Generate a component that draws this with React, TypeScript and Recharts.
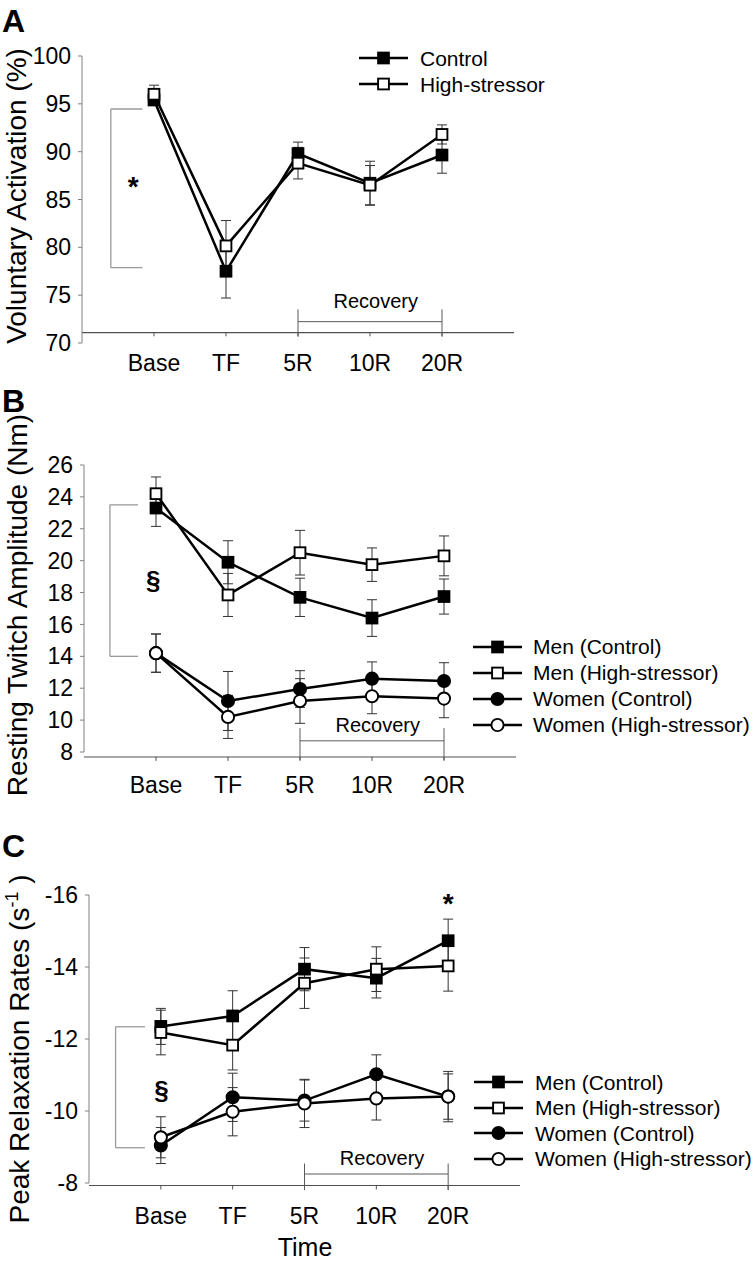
import React from 'react';
import { LineChart, Line, XAxis, YAxis, ErrorBar, ReferenceLine, ReferenceDot, Legend } from 'recharts';

const FONT = '"Liberation Sans", Arial, Helvetica, sans-serif';

// ---------- shared categories ----------
const timePoints = ['Base', 'TF', '5R', '10R', '20R'];

// ---------- Panel A: Voluntary activation (%) ----------
const vaControl = [95.4, 77.5, 89.8, 86.7, 89.65];
const vaControlErr = [0.5, 2.8, 1.2, 2.3, 1.9];
const vaHigh = [96.0, 80.15, 88.8, 86.5, 91.8];
const vaHighErr = [0.95, 2.65, 1.65, 2.05, 1.0];
const vaTicks = [70, 75, 80, 85, 90, 95, 100];

// ---------- Panel B: Resting twitch amplitude (Nm) ----------
const rtMenControl = [23.3, 19.9, 17.7, 16.4, 17.75];
const rtMenControlErr = [1.15, 1.35, 1.2, 1.15, 1.1];
const rtMenHigh = [24.2, 17.85, 20.5, 19.75, 20.3];
const rtMenHighErr = [1.05, 1.35, 1.4, 1.05, 1.25];
const rtWomenControl = [14.2, 11.2, 11.95, 12.6, 12.45];
const rtWomenControlErr = [1.2, 1.85, 1.15, 1.05, 1.15];
const rtWomenHigh = [14.2, 10.2, 11.2, 11.5, 11.35];
const rtWomenHighErr = [1.2, 1.35, 1.4, 1.1, 1.2];
const rtTicks = [8, 10, 12, 14, 16, 18, 20, 22, 24, 26];

// ---------- Panel C: Peak relaxation rates (s^-1) ----------
const prMenControl = [-12.35, -12.64, -13.94, -13.69, -14.73];
const prMenControlErr = [0.5, 0.7, 0.6, 0.55, 0.6];
const prMenHigh = [-12.18, -11.83, -13.55, -13.94, -14.03];
const prMenHighErr = [0.62, 0.69, 0.7, 0.62, 0.7];
const prWomenControl = [-9.04, -10.38, -10.29, -11.02, -10.4];
const prWomenControlErr = [0.5, 0.67, 0.57, 0.54, 0.63];
const prWomenHigh = [-9.27, -9.98, -10.21, -10.35, -10.4];
const prWomenHighErr = [0.57, 0.67, 0.67, 0.6, 0.7];
const prTicks = [-16, -14, -12, -10, -8];

const legendA = ['Control', 'High-stressor'];
const legendBC = ['Men (Control)', 'Men (High-stressor)', 'Women (Control)', 'Women (High-stressor)'];

// ---------- data tables ----------
const tickPositions = timePoints.map((_, i) => i + 1);
const fmtTime = (v: number) => timePoints[v - 1] ?? '';

const dataA = timePoints.map((t, i) => ({
  pos: i + 1, time: t,
  control: vaControl[i], controlErr: vaControlErr[i],
  high: vaHigh[i], highErr: vaHighErr[i],
}));
const dataB = timePoints.map((t, i) => ({
  pos: i + 1, time: t,
  mc: rtMenControl[i], mcErr: rtMenControlErr[i],
  mh: rtMenHigh[i], mhErr: rtMenHighErr[i],
  wc: rtWomenControl[i], wcErr: rtWomenControlErr[i],
  wh: rtWomenHigh[i], whErr: rtWomenHighErr[i],
}));
const dataC = timePoints.map((t, i) => ({
  pos: i + 1, time: t,
  mc: prMenControl[i], mcErr: prMenControlErr[i],
  mh: prMenHigh[i], mhErr: prMenHighErr[i],
  wc: prWomenControl[i], wcErr: prWomenControlErr[i],
  wh: prWomenHigh[i], whErr: prWomenHighErr[i],
}));

// ---------- styles ----------
const Y_AXIS_GRAY = '#808080';
const X_AXIS_GRAY = '#505050';
const BRACKET_GRAY = '#9a9a9a';
const RECOVERY_GRAY = '#5a5a5a';
const ERR_COLOR = '#333333';
const LINE_W = 2.5;

type Marker = 'filledSquare' | 'openSquare' | 'filledCircle' | 'openCircle';

function renderMarker(kind: Marker, cx: number, cy: number, key?: string) {
  const filled = kind === 'filledSquare' || kind === 'filledCircle';
  const fill = filled ? '#000' : '#fff';
  if (kind === 'filledSquare' || kind === 'openSquare') {
    return <rect key={key} x={cx - 5.4} y={cy - 5.4} width={10.8} height={10.8} fill={fill} stroke="#000" strokeWidth={1.9} />;
  }
  return <circle key={key} cx={cx} cy={cy} r={6.1} fill={fill} stroke="#000" strokeWidth={1.9} />;
}

const dotFor = (kind: Marker) => (p: any) => {
  if (p.cx == null || p.cy == null) return <g key={`${kind}-e-${p.index}`} />;
  return renderMarker(kind, p.cx, p.cy, `${kind}-${p.index}`);
};

const markersA: Marker[] = ['filledSquare', 'openSquare'];
const markersBC: Marker[] = ['filledSquare', 'openSquare', 'filledCircle', 'openCircle'];

const LegendBox = ({ names, markers, rowH, gap }: { names: string[]; markers: Marker[]; rowH: number; gap: number }) => (
  <div style={{ fontFamily: FONT, fontSize: 21, color: '#000' }}>
    {names.map((n, i) => (
      <div key={n} style={{ display: 'flex', alignItems: 'center', height: rowH, whiteSpace: 'nowrap' }}>
        <svg width={49} height={16} style={{ display: 'block', flex: 'none', marginRight: gap }}>
          <line x1={0} y1={8} x2={49} y2={8} stroke="#000" strokeWidth={LINE_W} />
          {renderMarker(markers[i], 24.5, 8)}
        </svg>
        <span style={{ lineHeight: 1 }}>{n}</span>
      </div>
    ))}
  </div>
);

const textShape = (text: string, fontSize: number, bold: boolean) => (p: any) => (
  <text x={p.cx} y={p.cy} textAnchor="middle" fontSize={fontSize} fontWeight={bold ? 'bold' : 'normal'} fontFamily={FONT} fill="#000">
    {text}
  </text>
);

const tickStyle = { fill: '#000', fontSize: 23, fontFamily: FONT };

const titleA = () => (
  <g>
    <text x={2} y={32} fontSize={32} fontWeight="bold" fontFamily={FONT} fill="#000">A</text>
    <text transform="translate(26,196) rotate(-90)" textAnchor="middle" fontSize={28} fontFamily={FONT} fill="#000">
      Voluntary Activation (%)
    </text>
  </g>
);
const titleB = () => (
  <g>
    <text x={2} y={37} fontSize={32} fontWeight="bold" fontFamily={FONT} fill="#000">B</text>
    <text transform="translate(27,230) rotate(-90)" textAnchor="middle" fontSize={28} fontFamily={FONT} fill="#000">
      Resting Twitch Amplitude (Nm)
    </text>
  </g>
);
const titleC = () => (
  <g>
    <text x={2} y={37} fontSize={32} fontWeight="bold" fontFamily={FONT} fill="#000">C</text>
    <text transform="translate(29,229) rotate(-90)" textAnchor="middle" fontSize={28} fontFamily={FONT} fill="#000">
      Peak Relaxation Rates (s<tspan dy={-11} fontSize={18}>-1</tspan><tspan dy={11}> )</tspan>
    </text>
  </g>
);
const timeTitle = () => (
  <text x={305} y={436} textAnchor="middle" fontSize={25} fontFamily={FONT} fill="#000">Time</text>
);

function bracket(xa: number, xb: number, y1: number, y2: number, prefix: string) {
  return [
    <ReferenceLine key={`${prefix}-v`} segment={[{ x: xa, y: y1 }, { x: xa, y: y2 }]} stroke={BRACKET_GRAY} strokeWidth={1.3} ifOverflow="visible" />,
    <ReferenceLine key={`${prefix}-t`} segment={[{ x: xa, y: y1 }, { x: xb, y: y1 }]} stroke={BRACKET_GRAY} strokeWidth={1.3} ifOverflow="visible" />,
    <ReferenceLine key={`${prefix}-b`} segment={[{ x: xa, y: y2 }, { x: xb, y: y2 }]} stroke={BRACKET_GRAY} strokeWidth={1.3} ifOverflow="visible" />,
  ];
}

function recovery(yTop: number, yH: number, yBottom: number, prefix: string) {
  return [
    <ReferenceLine key={`${prefix}-l`} segment={[{ x: 3, y: yTop }, { x: 3, y: yBottom }]} stroke={RECOVERY_GRAY} strokeWidth={1} ifOverflow="visible" />,
    <ReferenceLine key={`${prefix}-r`} segment={[{ x: 5, y: yTop }, { x: 5, y: yBottom }]} stroke={RECOVERY_GRAY} strokeWidth={1} ifOverflow="visible" />,
    <ReferenceLine key={`${prefix}-h`} segment={[{ x: 3, y: yH }, { x: 5, y: yH }]} stroke={RECOVERY_GRAY} strokeWidth={1} ifOverflow="visible" />,
  ];
}

function xAxisLine(yAxis: number, yTickEnd: number, prefix: string) {
  return [
    <ReferenceLine key={`${prefix}-axis`} y={yAxis} stroke={X_AXIS_GRAY} strokeWidth={1.1} ifOverflow="visible" />,
    ...tickPositions.map((p) => (
      <ReferenceLine key={`${prefix}-tk${p}`} segment={[{ x: p, y: yAxis }, { x: p, y: yTickEnd }]} stroke={X_AXIS_GRAY} strokeWidth={1} ifOverflow="visible" />
    )),
  ];
}

const xAxisProps = (margin: number, height: number) => ({
  type: 'number' as const,
  dataKey: 'pos',
  domain: [0, 6],
  ticks: tickPositions,
  tickFormatter: fmtTime,
  interval: 0 as const,
  axisLine: false,
  tickLine: false,
  tickSize: 0,
  tickMargin: margin,
  height,
  tick: tickStyle,
  allowDataOverflow: true,
});

const errProps = { width: 5, stroke: ERR_COLOR, strokeWidth: 1, direction: 'y' as const, isAnimationActive: false };

export default function App() {
  return (
    <div style={{ position: 'absolute', left: 0, top: 0, width: 753, height: 1263, background: '#fff', overflow: 'hidden' }}>
      {/* Panel A */}
      <div style={{ position: 'absolute', left: 0, top: 0 }}>
        <LineChart width={753} height={375} data={dataA} margin={{ top: 56, right: 239, bottom: 2, left: 0 }}>
          <XAxis {...xAxisProps(12, 30)} />
          <YAxis type="number" domain={[70, 100]} ticks={vaTicks} interval={0} width={82}
            axisLine={{ stroke: Y_AXIS_GRAY }} tickLine={{ stroke: Y_AXIS_GRAY }} tickSize={4} tickMargin={7}
            tick={tickStyle} label={titleA} />
          {xAxisLine(71.08, 70.7, 'a')}
          {recovery(73.52, 72.23, 70.66, 'aRec')}
          {bracket(0.4, 0.84, 94.46, 77.87, 'aSig')}
          <ReferenceDot x={0.71} y={85.37} r={1} shape={textShape('*', 28, true)} ifOverflow="visible" />
          <ReferenceDot x={4.08} y={73.63} r={1} shape={textShape('Recovery', 20, false)} ifOverflow="visible" />
          <Line dataKey="control" name={legendA[0]} stroke="#000" strokeWidth={LINE_W} dot={dotFor('filledSquare')} activeDot={false} isAnimationActive={false}>
            <ErrorBar dataKey="controlErr" {...errProps} />
          </Line>
          <Line dataKey="high" name={legendA[1]} stroke="#000" strokeWidth={LINE_W} dot={dotFor('openSquare')} activeDot={false} isAnimationActive={false}>
            <ErrorBar dataKey="highErr" {...errProps} />
          </Line>
          <Legend layout="vertical" align="center" verticalAlign="middle"
            wrapperStyle={{ left: 359, top: 45, width: 'auto' }}
            content={() => <LegendBox names={legendA} markers={markersA} rowH={26} gap={12} />} />
        </LineChart>
      </div>

      {/* Panel B */}
      <div style={{ position: 'absolute', left: 0, top: 375 }}>
        <LineChart width={753} height={445} data={dataB} margin={{ top: 90, right: 237, bottom: 28, left: 0 }}>
          <XAxis {...xAxisProps(25, 40)} />
          <YAxis type="number" domain={[8, 26]} ticks={rtTicks} interval={0} width={84}
            axisLine={{ stroke: Y_AXIS_GRAY }} tickLine={{ stroke: Y_AXIS_GRAY }} tickSize={4} tickMargin={7}
            tick={tickStyle} label={titleB} />
          {xAxisLine(7.69, 7.44, 'b')}
          {recovery(9.5, 8.7, 7.5, 'bRec')}
          {bracket(0.36, 0.75, 23.5, 14.0, 'bSig')}
          <ReferenceDot x={0.96} y={18.2} r={1} shape={textShape('§', 26, true)} ifOverflow="visible" />
          <ReferenceDot x={4.08} y={9.27} r={1} shape={textShape('Recovery', 20, false)} ifOverflow="visible" />
          <Line dataKey="mc" name={legendBC[0]} stroke="#000" strokeWidth={LINE_W} dot={dotFor('filledSquare')} activeDot={false} isAnimationActive={false}>
            <ErrorBar dataKey="mcErr" {...errProps} />
          </Line>
          <Line dataKey="mh" name={legendBC[1]} stroke="#000" strokeWidth={LINE_W} dot={dotFor('openSquare')} activeDot={false} isAnimationActive={false}>
            <ErrorBar dataKey="mhErr" {...errProps} />
          </Line>
          <Line dataKey="wc" name={legendBC[2]} stroke="#000" strokeWidth={LINE_W} dot={dotFor('filledCircle')} activeDot={false} isAnimationActive={false}>
            <ErrorBar dataKey="wcErr" {...errProps} />
          </Line>
          <Line dataKey="wh" name={legendBC[3]} stroke="#000" strokeWidth={LINE_W} dot={dotFor('openCircle')} activeDot={false} isAnimationActive={false}>
            <ErrorBar dataKey="whErr" {...errProps} />
          </Line>
          <Legend layout="vertical" align="center" verticalAlign="middle"
            wrapperStyle={{ left: 473, top: 258.7, width: 'auto' }}
            content={() => <LegendBox names={legendBC} markers={markersBC} rowH={26} gap={11} />} />
        </LineChart>
      </div>

      {/* Panel C */}
      <div style={{ position: 'absolute', left: 0, top: 820 }}>
        <LineChart width={753} height={443} data={dataC} margin={{ top: 75, right: 233, bottom: 40, left: 0 }}>
          <XAxis {...xAxisProps(25, 40)} label={timeTitle} />
          <YAxis type="number" domain={[-16, -8]} reversed ticks={prTicks} interval={0} width={89}
            axisLine={{ stroke: Y_AXIS_GRAY }} tickLine={{ stroke: Y_AXIS_GRAY }} tickSize={4} tickMargin={7}
            tick={tickStyle} label={titleC} />
          {xAxisLine(-7.93, -7.82, 'c')}
          {recovery(-8.54, -8.25, -7.8, 'cRec')}
          {bracket(0.37, 0.78, -12.34, -8.98, 'cSig')}
          <ReferenceDot x={1.01} y={-10.33} r={1} shape={textShape('§', 26, true)} ifOverflow="visible" />
          <ReferenceDot x={5} y={-15.51} r={1} shape={textShape('*', 28, true)} ifOverflow="visible" />
          <ReferenceDot x={4.08} y={-8.5} r={1} shape={textShape('Recovery', 20, false)} ifOverflow="visible" />
          <Line dataKey="mc" name={legendBC[0]} stroke="#000" strokeWidth={LINE_W} dot={dotFor('filledSquare')} activeDot={false} isAnimationActive={false}>
            <ErrorBar dataKey="mcErr" {...errProps} />
          </Line>
          <Line dataKey="mh" name={legendBC[1]} stroke="#000" strokeWidth={LINE_W} dot={dotFor('openSquare')} activeDot={false} isAnimationActive={false}>
            <ErrorBar dataKey="mhErr" {...errProps} />
          </Line>
          <Line dataKey="wc" name={legendBC[2]} stroke="#000" strokeWidth={LINE_W} dot={dotFor('filledCircle')} activeDot={false} isAnimationActive={false}>
            <ErrorBar dataKey="wcErr" {...errProps} />
          </Line>
          <Line dataKey="wh" name={legendBC[3]} stroke="#000" strokeWidth={LINE_W} dot={dotFor('openCircle')} activeDot={false} isAnimationActive={false}>
            <ErrorBar dataKey="whErr" {...errProps} />
          </Line>
          <Legend layout="vertical" align="center" verticalAlign="middle"
            wrapperStyle={{ left: 474, top: 249.7, width: 'auto' }}
            content={() => <LegendBox names={legendBC} markers={markersBC} rowH={25.5} gap={12} />} />
        </LineChart>
      </div>
    </div>
  );
}
